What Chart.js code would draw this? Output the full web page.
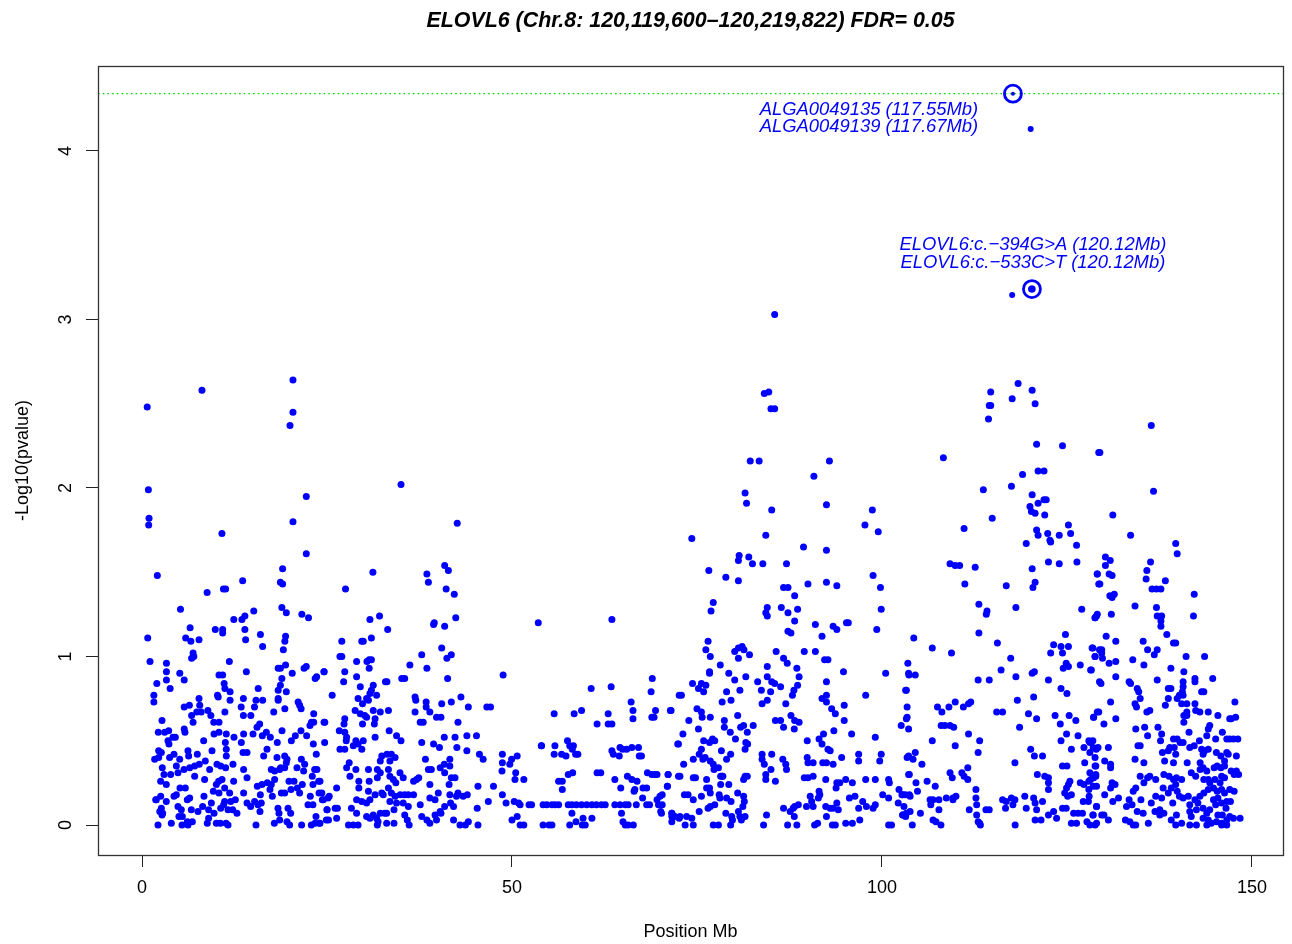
<!DOCTYPE html>
<html><head><meta charset="utf-8">
<script src="https://cdn.jsdelivr.net/npm/chart.js@4/dist/chart.umd.min.js"></script>
<style>html,body{margin:0;padding:0;background:#fff}#wrap{width:1292px;height:944px;position:relative}</style>
</head><body><div id="wrap"><canvas id="c" width="1292" height="944"></canvas></div>
<script>
const TITLE = "ELOVL6 (Chr.8: 120,119,600\u2013120,219,822) FDR= 0.05";
const X_TITLE = "Position Mb";
const Y_TITLE = "-Log10(pvalue)";
const X_TICKS = [0, 50, 100, 150];
const Y_TICKS = [0, 1, 2, 3, 4];
const X_RANGE = [-5.95, 154.2];
const Y_RANGE = [-0.178, 4.504];
const FDR_THRESHOLD = 4.34;

// highlighted SNPs (circled) and the small top dots
const circledSnps = [[117.7, 4.34], [120.27, 3.18]];
const topDots = [[117.7, 4.34], [120.1, 4.13], [117.6, 3.145], [120.22, 3.18], [120.3, 3.18]];
const topDotSizes = [2, 3, 3, 3.5, 3.5];

const annotations = [
  {text: "ALGA0049135 (117.55Mb)", x: 113.0, y: 4.243, align: "right"},
  {text: "ALGA0049139 (117.67Mb)", x: 113.0, y: 4.14, align: "right"},
  {text: "ELOVL6:c.\u2212394G>A (120.12Mb)", x: 120.4, y: 3.442, align: "center"},
  {text: "ELOVL6:c.\u2212533C>T (120.12Mb)", x: 120.4, y: 3.337, align: "center"}
];

// SNP positions (Mb) and -log10(p), grouped by chromosome segment
const segment0to25 = [
[0.7,2.48],[8.1,2.58],[20.4,2.64],[20.4,2.45],[20.0,2.37],[0.86,1.99],[0.95,1.82],[0.9,1.78],[22.2,1.95],[10.8,1.73],[20.4,1.80],[22.2,1.61],[2.07,1.48],[19.0,1.52],[18.7,1.44],[19.0,1.43],[13.6,1.45],[8.8,1.38],[11.0,1.40],[11.3,1.40],[5.2,1.28],[18.9,1.29],[19.5,1.26],[15.1,1.27],[12.4,1.22],[13.5,1.22],[13.9,1.24],[21.6,1.25],[22.5,1.23],[6.5,1.17],[9.9,1.16],[10.9,1.16],[10.9,1.14],[13.9,1.16],[14.0,1.10],[16.0,1.13],[16.3,1.06],[19.4,1.12],[19.3,1.09],[19.1,1.04],[0.77,1.11],[5.9,1.11],[6.6,1.09],[7.7,1.10],[6.9,1.02],[6.7,0.99],[7.0,1.00],[1.08,0.97],[3.3,0.96],[3.3,0.91],[3.3,0.86],[2.0,0.84],[5.1,0.90],[5.7,0.86],[3.8,0.81],[11.8,0.97],[14.1,0.91],[10.4,0.89],[10.9,0.89],[11.1,0.84],[11.2,0.81],[11.9,0.79],[11.9,0.74],[10.2,0.77],[10.3,0.76],[15.7,0.81],[15.4,0.74],[16.3,0.74],[18.4,0.93],[18.7,0.93],[18.9,0.87],[18.7,0.83],[18.4,0.80],[19.5,0.79],[19.4,0.95],[20.3,0.90],[21.9,0.93],[22.2,0.94],[23.4,0.87],[23.6,0.88],[24.6,0.91],[18.4,0.75],[18.4,0.74],[1.6,0.77],[1.6,0.73],[2.7,0.62],[2.2,0.55],[5.7,0.70],[6.4,0.71],[7.7,0.75],[7.8,0.71],[6.7,0.65],[6.9,0.61],[5.7,0.57],[5.8,0.55],[7.4,0.67],[8.0,0.67],[8.9,0.68],[9.3,0.65],[9.7,0.61],[10.4,0.61],[11.2,0.67],[13.4,0.70],[13.7,0.65],[13.7,0.75],[15.2,0.70],[14.7,0.65],[17.8,0.67],[19.3,0.69],[21.1,0.73],[21.3,0.71],[21.5,0.69],[23.2,0.66],[22.9,0.61],[23.2,0.61],[22.7,0.59],[24.7,0.61],
[3.06,0.55],[3.6,0.56],[4.18,0.52],[3.51,0.50],[3.64,0.48],[4.5,0.52],[8.33,0.50],[9.73,0.54],[10.4,0.55],[11.39,0.54],[11.26,0.49],[12.43,0.52],[13.73,0.54],[15.0,0.54],[15.54,0.58],[15.9,0.60],[16.26,0.53],[16.8,0.55],[17.34,0.52],[18.92,0.56],[18.28,0.49],[20.18,0.50],[20.72,0.53],[21.48,0.56],[22.25,0.53],[23.15,0.48],[24.68,0.49],[2.25,0.44],[2.61,0.43],[1.71,0.39],[2.25,0.40],[2.74,0.34],[3.73,0.40],[4.32,0.42],[5.09,0.39],[4.64,0.35],[6.21,0.44],[6.3,0.41],[7.47,0.42],[8.55,0.38],[9.46,0.44],[11.39,0.45],[11.39,0.41],[10.13,0.36],[10.63,0.35],[11.3,0.34],[12.29,0.36],[13.42,0.49],[13.65,0.43],[14.19,0.43],[13.73,0.33],[14.19,0.28],[16.44,0.41],[16.89,0.45],[18.24,0.40],[19.28,0.41],[19.59,0.39],[19.5,0.37],[19.28,0.34],[17.47,0.33],[17.92,0.32],[18.6,0.33],[18.73,0.34],[21.53,0.39],[21.98,0.36],[20.94,0.34],[21.84,0.32],[23.55,0.42],[23.33,0.33],[23.64,0.33],[23.01,0.29],[23.87,0.26],
[2.97,0.30],[2.52,0.26],[3.28,0.24],[3.87,0.30],[4.86,0.31],[5.67,0.33],[6.44,0.34],[7.11,0.35],[7.74,0.36],[7.11,0.29],[8.46,0.27],[9.14,0.33],[10.36,0.26],[10.81,0.27],[10.04,0.24],[12.38,0.26],[5.13,0.22],[5.85,0.22],[4.64,0.18],[4.32,0.17],[6.12,0.15],[6.44,0.16],[1.93,0.15],[2.52,0.17],[3.28,0.14],[8.37,0.17],[9.64,0.20],[10.4,0.19],[11.17,0.22],[11.84,0.19],[11.17,0.14],[11.98,0.14],[12.61,0.15],[13.73,0.19],[15.58,0.23],[16.21,0.24],[15.99,0.18],[16.93,0.25],[17.47,0.24],[17.92,0.27],[17.29,0.21],[17.61,0.17],[18.83,0.19],[19.28,0.19],[19.86,0.26],[20.54,0.26],[20.13,0.21],[20.99,0.22],[21.3,0.19],[21.66,0.24],[22.74,0.17],[23.1,0.24],[23.92,0.19],[24.37,0.15],[25.13,0.16],[25.0,0.09],
[2.61,0.10],[2.79,0.07],[4.86,0.11],[5.31,0.09],[6.66,0.09],[7.56,0.08],[8.19,0.11],[9.37,0.13],[9.0,0.09],[9.73,0.07],[10.63,0.10],[11.03,0.12],[11.62,0.09],[12.25,0.09],[12.83,0.07],[14.19,0.13],[14.68,0.11],[15.22,0.14],[15.67,0.12],[15.94,0.08],[16.12,0.13],[18.37,0.10],[18.51,0.07],[19.73,0.10],[20.09,0.07],[22.43,0.12],[23.1,0.12],[23.51,0.05],[2.16,0.0],[3.96,0.01],[4.99,0.05],[5.45,0.05],[5.4,0.0],[6.12,0.02],[6.8,0.02],[6.21,0.0],[8.82,0.01],[9.0,0.04],[10.04,0.01],[10.58,0.01],[11.35,0.01],[11.62,0.0],[15.4,0.0],[17.88,0.01],[18.6,0.03],[19.59,0.02],[19.95,0.0],[21.57,0.0],[22.88,0.0],[23.38,0.01],[23.96,0.01],[24.91,0.03],[2.4,0.08],[2.7,0.06],[1.85,0.15]
];

const segment25to55 = [
[35.0,2.02],[42.6,1.79],[31.2,1.50],[27.5,1.40],[38.5,1.49],[38.7,1.44],[40.9,1.54],[41.4,1.51],[41.1,1.40],[42.2,1.37],[42.4,1.23],[39.5,1.20],[39.4,1.19],[40.9,1.18],[30.8,1.22],[32.1,1.24],[33.2,1.16],[27.0,1.09],[29.7,1.09],[29.9,1.09],[31.0,1.11],[26.75,1.0],[27.0,1.0],[29.0,0.97],[30.4,0.97],[30.7,0.98],[31.0,0.98],[30.7,0.93],[27.4,0.91],[24.6,0.91],[27.25,0.85],[29.0,0.88],[29.5,0.82],[31.25,0.83],[31.0,0.80],[30.8,0.78],[31.7,0.77],[33.1,0.85],[32.9,0.85],[35.1,0.87],[35.5,0.87],[36.2,0.95],[37.8,1.01],[38.5,0.93],[40.5,1.05],[41.2,0.99],[41.8,1.01],[41.3,0.87],[48.8,0.89],[53.55,1.20],
[25.7,0.77],[29.2,0.75],[29.8,0.72],[30.35,0.75],[30.6,0.74],[28.8,0.68],[29.5,0.66],[30.1,0.65],[30.35,0.64],[31.25,0.68],[31.5,0.63],[32.2,0.67],[33.3,0.68],[29.8,0.60],[31.4,0.60],[27.4,0.63],[27.3,0.60],[24.6,0.61],[26.66,0.56],[27.4,0.55],[27.65,0.52],[27.6,0.50],[28.9,0.50],[29.2,0.48],[28.55,0.47],[29.9,0.50],[29.7,0.45],[26.75,0.45],[27.4,0.45],[31.5,0.52],[33.4,0.56],[34.4,0.53],[35.0,0.50],[36.9,0.76],[37.0,0.74],[36.9,0.67],[38.4,0.73],[38.4,0.70],[38.9,0.67],[39.8,0.64],[40.4,0.64],[40.5,0.72],[41.8,0.73],[43.1,0.76],[44.1,0.70],[37.6,0.61],[38.0,0.61],[42.7,0.61],[37.8,0.49],[39.4,0.48],[40.2,0.46],[40.85,0.52],[42.3,0.52],[43.9,0.53],[45.2,0.53],[42.55,0.46],[43.9,0.44],[46.6,0.70],[47.1,0.70],[45.6,0.42],[46.1,0.39],[48.7,0.42],[48.7,0.37],[48.65,0.32],[49.7,0.36],[49.95,0.39],[50.7,0.41],[50.5,0.31],[50.4,0.27],[51.6,0.27],[53.96,0.47],
[27.65,0.34],[28.0,0.37],[28.9,0.33],[28.1,0.29],[29.3,0.26],[30.7,0.26],[30.6,0.33],[31.8,0.33],[32.2,0.38],[32.4,0.41],[33.1,0.42],[33.7,0.42],[33.5,0.38],[34.2,0.40],[32.2,0.31],[31.8,0.28],[33.3,0.33],[33.5,0.29],[33.96,0.27],[34.3,0.25],[34.86,0.31],[35.3,0.28],[36.7,0.26],[37.1,0.27],[37.4,0.28],[38.3,0.39],[38.7,0.33],[39.1,0.33],[40.3,0.34],[40.85,0.36],[41.6,0.35],[40.9,0.31],[41.6,0.39],[41.8,0.28],[42.3,0.28],[38.9,0.24],[41.5,0.24],[45.4,0.23],[47.5,0.23],[24.05,0.26],[26.3,0.22],[24.3,0.19],[24.5,0.15],[25.3,0.17],
[29.3,0.22],[29.0,0.15],[29.7,0.14],[30.35,0.13],[30.8,0.15],[30.6,0.20],[31.5,0.18],[32.4,0.19],[32.6,0.18],[33.3,0.22],[33.7,0.19],[34.2,0.17],[34.9,0.18],[35.5,0.18],[35.99,0.18],[36.7,0.18],[35.3,0.13],[35.99,0.11],[34.4,0.13],[33.5,0.14],[37.6,0.12],[38.9,0.16],[39.6,0.15],[40.04,0.19],[41.6,0.18],[42.5,0.17],[42.7,0.19],[43.4,0.17],[43.96,0.18],[40.3,0.08],[40.9,0.11],[41.7,0.13],[42.1,0.11],[45.3,0.10],[46.8,0.14],[48.7,0.18],[49.2,0.13],[50.3,0.14],[50.9,0.13],[51.1,0.12],[52.3,0.12],[52.65,0.12],[54.2,0.12],[54.7,0.12],
[25.0,0.09],[26.1,0.10],[26.4,0.10],[25.2,0.03],[26.3,0.04],[28.3,0.10],[29.0,0.07],[28.55,0.0],[27.9,0.0],[29.2,0.0],[30.35,0.05],[30.8,0.04],[31.25,0.06],[31.7,0.04],[31.9,0.02],[32.2,0.07],[32.8,0.07],[33.06,0.07],[34.05,0.09],[31.8,0.0],[33.06,0.01],[34.05,0.01],[35.5,0.06],[35.85,0.03],[36.1,0.0],[37.8,0.05],[38.5,0.03],[38.9,0.01],[39.6,0.06],[39.8,0.03],[40.4,0.07],[42.1,0.03],[42.97,0.0],[43.7,0.0],[44.1,0.02],[45.4,0.0],[50.0,0.03],[50.7,0.05],[51.1,0.0],[51.6,0.0],[54.2,0.0],[55.0,0.0],[24.05,0.01]
];

const segment54to72 = [
[63.5,1.22],[68.96,0.87],[68.8,0.79],[60.7,0.81],[63.4,0.82],[66.1,0.73],[66.35,0.68],[66.35,0.63],[69.4,0.68],[68.9,0.64],[69.2,0.64],[71.5,0.68],[72.6,0.77],[55.7,0.66],[58.4,0.66],[59.4,0.68],[61.5,0.60],[63.0,0.66],[63.0,0.60],[63.5,0.60],
[54.0,0.47],[55.8,0.47],[55.7,0.42],[57.5,0.50],[57.8,0.47],[58.3,0.47],[58.15,0.45],[56.7,0.42],[57.3,0.41],[58.6,0.42],[58.9,0.42],[63.5,0.44],[63.7,0.42],[64.6,0.46],[64.5,0.41],[64.95,0.45],[65.5,0.45],[66.2,0.46],[67.1,0.46],[67.2,0.41],[67.5,0.41],[72.4,0.48],
[57.6,0.30],[58.2,0.31],[61.5,0.31],[62.0,0.31],[56.3,0.26],[56.8,0.26],[56.8,0.21],[63.9,0.27],[65.6,0.29],[66.2,0.27],[66.9,0.26],[64.7,0.22],[66.6,0.21],[66.5,0.20],[67.7,0.22],[68.2,0.22],[68.3,0.31],[68.9,0.30],[69.3,0.30],[69.6,0.30],[71.1,0.30],[72.5,0.29],[71.0,0.23],[67.65,0.16],[70.0,0.17],[69.6,0.15],
[55.4,0.12],[55.8,0.12],[56.3,0.12],[57.6,0.12],[58.1,0.12],[58.7,0.12],[59.4,0.12],[60.1,0.12],[60.8,0.12],[61.4,0.12],[62.1,0.12],[62.6,0.12],[63.9,0.12],[64.6,0.12],[65.3,0.12],[65.7,0.12],[66.8,0.12],[68.2,0.12],[68.6,0.12],[69.8,0.12],
[58.1,0.07],[64.8,0.07],[70.1,0.08],[58.65,0.02],[59.6,0.04],[60.8,0.04],[59.9,0.0],[59.5,0.0],[65.0,0.02],[65.3,0.0],[65.7,0.0],[66.4,0.0],[55.4,0.0],[57.8,0.0],[71.6,0.07],[71.6,0.02],[72.0,0.05],[72.6,0.04]
];

const segment70to104 = [
[85.5,3.03],[84.1,2.56],[84.7,2.57],[85.0,2.47],[85.5,2.47],[82.2,2.16],[83.4,2.16],[92.9,2.16],[90.8,2.07],[81.5,1.97],[81.7,1.91],[85.1,1.87],[92.5,1.90],[98.7,1.87],[97.7,1.78],[99.5,1.74],[74.3,1.70],[84.3,1.72],[89.4,1.65],[92.5,1.63],[80.7,1.60],[80.6,1.57],[82.0,1.59],[82.5,1.55],[83.9,1.55],[87.1,1.55],[76.6,1.51],[78.9,1.47],[80.6,1.45],[90.0,1.43],[92.5,1.44],[93.9,1.42],[98.8,1.48],[99.8,1.41],[86.7,1.41],[87.3,1.41],[88.2,1.36],[77.2,1.32],[76.9,1.27],[84.5,1.29],[84.3,1.26],[84.5,1.24],[86.4,1.29],[87.3,1.26],[88.6,1.28],[88.2,1.21],[99.9,1.28],[91.0,1.19],[87.3,1.15],[87.7,1.14],[93.4,1.18],[93.9,1.16],[95.2,1.20],[95.45,1.20],[91.9,1.12],[99.3,1.16],
[76.5,1.09],[76.2,1.04],[76.8,1.00],[80.1,1.03],[80.6,1.05],[81.1,1.06],[81.35,1.04],[80.6,0.99],[82.1,1.01],[85.7,1.03],[89.5,1.03],[91.0,1.03],[92.25,0.98],[92.7,0.98],[86.7,0.99],[87.2,0.96],[84.5,0.94],[84.5,0.88],[85.1,0.85],[85.5,0.84],[86.3,0.82],[88.5,0.93],[88.8,0.88],[88.6,0.83],[88.1,0.80],[87.9,0.77],[76.7,0.91],[76.7,0.90],[78.15,0.95],[79.3,0.90],[80.1,0.86],[81.6,0.88],[74.4,0.84],[75.2,0.81],[75.6,0.84],[76.2,0.83],[75.9,0.79],[83.2,0.85],[83.7,0.80],[84.95,0.79],[84.5,0.74],[83.8,0.72],[79.0,0.79],[78.4,0.73],[79.6,0.74],[80.8,0.80],[72.9,0.77],[71.4,0.68],[92.5,0.85],[92.5,0.77],[91.9,0.75],[92.5,0.73],[94.8,0.91],[94.9,0.71],[94.9,0.62],[97.8,0.77],[100.5,0.90],[103.5,0.96],[103.6,0.90],[103.3,0.80],[103.4,0.70],[103.4,0.64],[87.0,0.72],[93.2,0.69],[93.7,0.66],
[75.0,0.69],[75.6,0.67],[76.8,0.64],[73.9,0.62],[75.2,0.57],[75.7,0.64],[78.7,0.62],[78.7,0.58],[80.5,0.65],[80.9,0.58],[81.3,0.59],[81.8,0.55],[82.6,0.59],[79.5,0.55],[80.2,0.51],[81.6,0.49],[81.85,0.48],[81.5,0.45],[85.6,0.62],[86.3,0.62],[86.7,0.58],[87.7,0.65],[88.2,0.62],[88.8,0.61],[88.15,0.57],[93.5,0.56],[95.9,0.54],[99.1,0.52],[89.9,0.50],[91.5,0.51],[92.1,0.54],[91.9,0.48],[92.7,0.45],[93.0,0.44],[72.5,0.48],[73.1,0.54],[74.5,0.39],[73.2,0.36],[75.9,0.50],[75.6,0.45],[76.7,0.49],[77.1,0.51],[77.4,0.50],[76.1,0.40],[75.3,0.42],[75.8,0.39],[76.8,0.38],[77.2,0.36],[77.9,0.34],[77.3,0.33],[78.3,0.44],[79.55,0.42],[79.0,0.39],[78.5,0.29],[83.8,0.42],[85.1,0.42],[83.8,0.39],[84.1,0.36],[85.0,0.33],[85.6,0.26],[84.3,0.30],[84.3,0.27],[86.6,0.39],[87.0,0.36],[87.1,0.33],[89.9,0.40],[90.0,0.37],[90.7,0.37],[92.0,0.37],[92.5,0.37],[93.4,0.36],[94.55,0.40],[96.85,0.42],[96.85,0.38],[99.9,0.42],[99.7,0.38],[103.4,0.40],
[71.1,0.30],[72.7,0.29],[74.5,0.28],[74.8,0.28],[76.3,0.27],[78.2,0.29],[78.4,0.29],[79.3,0.24],[81.5,0.29],[81.8,0.29],[81.3,0.27],[89.5,0.28],[90.0,0.28],[90.7,0.29],[92.4,0.27],[93.9,0.25],[94.3,0.25],[93.8,0.22],[95.1,0.27],[96.0,0.25],[97.8,0.27],[99.1,0.27],[100.9,0.27],[101.0,0.25],[103.6,0.30],[71.0,0.23],[76.7,0.22],[76.3,0.22],[78.2,0.24],[70.3,0.18],[70.3,0.12],[70.2,0.07],[73.3,0.18],[73.8,0.18],[75.6,0.17],[76.8,0.19],[78.0,0.18],[78.1,0.16],[77.4,0.12],[76.8,0.11],[76.5,0.10],[75.3,0.08],[74.5,0.15],[79.0,0.16],[79.6,0.14],[80.5,0.19],[81.3,0.17],[81.4,0.14],[81.2,0.11],[80.6,0.08],[78.9,0.07],[79.7,0.05],[80.8,0.05],[81.5,0.05],[81.0,0.04],
[86.7,0.10],[87.6,0.08],[88.0,0.10],[88.2,0.11],[88.7,0.12],[88.15,0.05],[84.4,0.06],[90.3,0.17],[90.5,0.14],[89.8,0.11],[90.7,0.11],[91.5,0.20],[91.6,0.18],[91.4,0.16],[92.4,0.11],[93.0,0.10],[93.4,0.10],[93.9,0.13],[94.1,0.09],[95.6,0.16],[96.35,0.17],[97.4,0.14],[96.85,0.10],[97.9,0.11],[98.8,0.10],[99.1,0.12],[100.1,0.18],[100.9,0.16],[102.3,0.21],[102.7,0.18],[102.2,0.13],[103.15,0.18],[103.7,0.18],[102.8,0.06],[103.3,0.07],[71.6,0.07],[71.6,0.05],[72.7,0.05],[73.6,0.05],[74.3,0.04],[73.4,0.0],[74.5,0.0],[77.2,0.0],[77.9,0.0],[79.55,0.0],[79.8,0.03],[81.0,0.03],[84.0,0.0],[87.25,0.0],[88.5,0.0],[90.9,0.0],[91.3,0.01],[92.5,0.05],[93.3,0.0],[93.7,0.0],[95.1,0.01],[96.0,0.01],[97.0,0.03],[100.9,0.0],[101.3,0.0]
];

const segment102to130 = [
[118.4,2.62],[120.3,2.58],[114.7,2.57],[114.5,2.49],[114.7,2.49],[114.4,2.41],[117.6,2.53],[120.7,2.50],[120.9,2.26],[124.4,2.25],[129.3,2.21],[108.3,2.18],[121.1,2.10],[121.9,2.10],[119.0,2.08],[117.5,2.01],[113.7,1.99],[120.3,1.96],[121.1,1.91],[121.9,1.93],[122.2,1.93],[120.0,1.89],[120.2,1.86],[120.7,1.85],[122.0,1.84],[114.9,1.82],[111.1,1.76],[120.9,1.75],[121.1,1.72],[122.4,1.73],[122.7,1.69],[122.8,1.68],[123.96,1.72],[125.2,1.78],[125.5,1.73],[126.3,1.66],[119.5,1.67],[109.2,1.55],[109.9,1.54],[110.5,1.54],[112.6,1.53],[120.3,1.52],[122.5,1.56],[123.96,1.55],[126.35,1.56],[129.1,1.49],[129.3,1.43],[111.2,1.43],[116.8,1.42],[120.7,1.44],[120.4,1.41],[113.1,1.31],[114.2,1.27],[114.1,1.25],[118.1,1.29],[127.0,1.28],[128.8,1.23],[129.1,1.25],[113.1,1.14],[115.6,1.08],[104.3,1.11],[106.8,1.05],[109.4,1.02],
[103.65,0.89],[104.5,0.89],[103.2,0.80],[103.3,0.63],[103.6,0.57],[102.6,0.59],[117.4,0.99],[116.1,0.92],[118.1,0.88],[113.0,0.86],[114.5,0.86],[120.3,0.90],[120.6,0.91],[122.5,0.86],[124.8,1.13],[123.2,1.07],[124.2,1.06],[125.2,1.06],[122.8,1.02],[124.4,1.02],[124.9,0.96],[124.5,0.93],[125.2,0.94],[126.8,0.95],[128.2,0.92],[128.4,1.05],[128.8,1.0],[129.4,1.04],[124.2,0.81],[125.0,0.78],[129.4,0.85],[120.5,0.76],[118.3,0.74],[107.5,0.70],[108.1,0.67],[109.05,0.70],[109.9,0.73],[111.0,0.70],[111.7,0.72],[112.0,0.73],[108.0,0.59],[108.5,0.59],[109.2,0.59],[109.7,0.58],[115.5,0.67],[116.3,0.67],[119.8,0.66],[120.9,0.63],[118.6,0.58],[123.4,0.65],[124.1,0.60],[125.3,0.65],[126.2,0.62],[128.6,0.64],[129.1,0.67],
[124.95,0.54],[124.2,0.50],[125.6,0.45],[126.5,0.53],[127.3,0.46],[127.96,0.50],[128.5,0.50],[128.96,0.45],[128.1,0.43],[128.8,0.40],[106.8,0.50],[111.7,0.54],[113.2,0.50],[113.0,0.43],[109.9,0.47],[103.6,0.41],[104.5,0.43],[104.2,0.39],[105.4,0.36],[120.1,0.45],[120.6,0.41],[121.7,0.41],[117.97,0.37],[127.4,0.37],[124.4,0.35],[125.0,0.35],[128.8,0.35],[111.6,0.34],[109.2,0.31],[109.5,0.28],[110.8,0.31],[111.1,0.29],[111.6,0.27],[103.7,0.30],[104.6,0.25],[106.1,0.26],[107.2,0.23],[121.0,0.30],[122.0,0.29],[122.5,0.28],[122.5,0.25],[122.5,0.21],[125.4,0.26],[125.2,0.24],[124.95,0.22],[124.7,0.19],[126.8,0.25],[127.3,0.24],[127.96,0.26],[128.6,0.28],[128.9,0.30],[127.96,0.21],[128.0,0.17],[129.0,0.23],
[112.7,0.21],[112.7,0.16],[112.8,0.12],[102.8,0.18],[103.8,0.17],[104.8,0.20],[106.5,0.15],[106.9,0.15],[107.7,0.15],[106.6,0.12],[108.7,0.16],[109.6,0.15],[110.0,0.17],[109.6,0.16],[116.3,0.15],[116.8,0.14],[117.5,0.16],[117.97,0.15],[117.7,0.12],[119.3,0.17],[120.5,0.16],[120.7,0.13],[121.7,0.14],[125.1,0.17],[125.6,0.18],[127.2,0.14],[127.9,0.14],[129.0,0.11],[102.97,0.11],[103.8,0.08],[102.8,0.06],[103.2,0.05],[105.2,0.07],[107.7,0.09],[111.8,0.09],[112.8,0.06],[113.2,0.01],[113.0,0.02],[114.05,0.09],[114.5,0.09],[116.7,0.10],[119.5,0.10],[120.9,0.09],[122.5,0.06],[123.2,0.08],[123.6,0.04],[124.4,0.10],[124.9,0.10],[125.9,0.07],[126.5,0.07],[127.1,0.07],[127.7,0.02],[128.5,0.06],[129.0,0.01],[104.1,0.0],[106.9,0.03],[107.3,0.02],[107.97,0.0],[113.3,0.0],[118.0,0.0],[120.7,0.03],[121.5,0.03],[125.6,0.01],[126.3,0.01]
];

const segment128to149 = [
[136.4,2.37],[129.45,2.21],[136.7,1.98],[131.2,1.84],[133.6,1.72],[139.7,1.67],[139.9,1.61],[130.2,1.59],[130.85,1.57],[130.2,1.54],[129.1,1.49],[129.45,1.43],[130.7,1.49],[131.1,1.48],[136.3,1.56],[135.8,1.51],[135.7,1.46],[138.3,1.45],[136.5,1.40],[137.1,1.40],[137.7,1.40],[142.2,1.37],[130.8,1.36],[131.1,1.35],[131.4,1.37],[134.2,1.30],[137.1,1.29],[137.2,1.24],[137.8,1.24],[137.7,1.21],[137.7,1.18],[142.1,1.24],[129.0,1.24],[128.8,1.23],[131.0,1.25],[138.5,1.13],[130.3,1.12],[131.6,1.09],[135.3,1.09],[135.9,1.04],[137.2,1.04],[136.8,1.01],[139.4,1.08],[139.7,1.08],[141.1,1.00],[143.6,1.00],[128.5,1.05],[128.8,1.00],[129.7,1.04],[129.8,0.99],[129.7,1.02],
[130.7,0.96],[131.6,0.97],[133.9,0.98],[135.4,0.95],[128.3,0.92],[131.6,0.88],[129.6,0.84],[139.05,0.93],[137.2,0.86],[133.4,0.85],[133.6,0.84],[140.8,0.91],[140.7,0.85],[140.7,0.82],[140.6,0.79],[140.7,0.77],[142.3,0.87],[142.3,0.85],[144.7,0.87],[134.5,0.81],[134.7,0.79],[134.9,0.75],[138.7,0.81],[139.05,0.81],[140.2,0.77],[139.9,0.75],[138.7,0.75],[138.3,0.71],[130.9,0.73],[134.2,0.72],[134.4,0.70],[140.5,0.72],[141.2,0.72],[142.3,0.72],[143.2,0.79],[143.5,0.79],[147.7,0.73],[141.2,0.67],[142.4,0.68],[142.97,0.67],[144.1,0.67],[140.8,0.65],[141.2,0.65],[145.4,0.65],[147.0,0.63],[147.2,0.63],[147.8,0.64],
[129.3,0.67],[128.6,0.64],[130.0,0.60],[131.6,0.63],[135.8,0.67],[136.2,0.68],[135.5,0.58],[135.9,0.53],[134.3,0.57],[137.3,0.58],[137.8,0.54],[137.65,0.50],[140.8,0.61],[141.5,0.55],[144.3,0.59],[144.1,0.57],[143.9,0.53],[145.1,0.51],[146.0,0.55],[146.6,0.51],[147.0,0.51],[147.5,0.51],[148.1,0.51],[147.9,0.41],[128.1,0.49],[128.55,0.46],[129.2,0.46],[130.6,0.46],[134.6,0.47],[134.9,0.47],[137.9,0.43],[138.7,0.44],[139.4,0.51],[139.9,0.51],[140.3,0.49],[140.7,0.49],[139.5,0.46],[138.9,0.46],[139.7,0.42],[141.6,0.46],[142.2,0.47],[142.9,0.50],[143.2,0.45],[143.6,0.44],[144.1,0.45],[143.4,0.42],[145.2,0.43],[145.8,0.41],[146.6,0.43],[146.8,0.42],[146.3,0.38],[144.9,0.34],[145.3,0.35],[145.8,0.34],[147.2,0.32],[147.9,0.32],[148.2,0.30],[147.6,0.30],[146.3,0.35],
[128.9,0.35],[130.1,0.38],[130.9,0.36],[130.9,0.34],[128.1,0.31],[134.2,0.39],[135.4,0.37],[134.9,0.29],[135.4,0.25],[135.9,0.28],[136.2,0.29],[138.2,0.38],[139.4,0.37],[138.1,0.30],[137.0,0.27],[138.8,0.29],[139.4,0.27],[139.8,0.28],[140.5,0.27],[141.25,0.37],[141.8,0.31],[142.4,0.29],[143.0,0.37],[143.0,0.33],[143.4,0.34],[143.9,0.32],[143.5,0.27],[144.1,0.27],[144.3,0.25],[145.0,0.27],[145.7,0.25],[145.9,0.29],[146.3,0.28],[128.2,0.27],[128.9,0.29],[128.55,0.23],[131.1,0.25],[131.5,0.24],[130.9,0.22],
[130.1,0.18],[131.97,0.16],[131.2,0.14],[130.6,0.03],[129.0,0.11],[128.55,0.06],[129.7,0.06],[130.0,0.06],[133.4,0.15],[133.96,0.20],[134.3,0.22],[135.0,0.15],[133.8,0.12],[133.05,0.11],[132.9,0.03],[134.5,0.08],[135.3,0.07],[133.96,0.0],[134.3,0.0],[136.0,0.01],[137.0,0.17],[137.8,0.16],[136.4,0.13],[138.0,0.22],[138.7,0.19],[139.1,0.22],[139.7,0.24],[139.9,0.20],[140.2,0.17],[139.3,0.13],[136.9,0.08],[137.55,0.09],[138.1,0.07],[137.55,0.06],[139.8,0.06],[139.1,0.03],[139.7,0.0],[140.5,0.01],
[140.7,0.16],[141.4,0.17],[141.6,0.12],[142.3,0.15],[142.7,0.13],[142.97,0.17],[143.5,0.19],[144.1,0.21],[144.8,0.22],[145.3,0.20],[145.9,0.21],[146.3,0.19],[147.0,0.21],[147.6,0.20],[141.6,0.08],[141.8,0.05],[142.5,0.09],[143.4,0.10],[143.9,0.07],[144.3,0.09],[144.8,0.15],[145.1,0.12],[145.4,0.16],[145.9,0.13],[146.6,0.14],[147.1,0.14],[146.5,0.10],[143.4,0.04],[144.1,0.03],[144.5,0.01],[145.2,0.02],[145.9,0.01],[146.6,0.03],[147.0,0.05],[147.5,0.04],[148.4,0.04],[145.4,0.06],[146.0,0.06],[141.6,0.0],[142.5,0.0],[143.9,0.0],[145.9,0.0],[146.6,0.0],[128.1,0.0],[128.8,0.0],[133.5,0.02]
];

const allSnps = [].concat(segment0to25, segment25to55, segment54to72, segment70to104, segment102to130, segment128to149);

const FONT = "'Liberation Sans', Arial, Helvetica, sans-serif";
const BLUE = '#0000FF';

const toXY = arr => arr.map(([x, y]) => ({x, y}));

const framePlugin = {
  id: 'frame',
  afterDraw(chart) {
    const {ctx, chartArea: a, scales} = chart;
    ctx.save();
    ctx.strokeStyle = '#333';
    ctx.lineWidth = 1.3;
    ctx.strokeRect(Math.round(a.left) + 0.5, Math.round(a.top) + 0.5, Math.round(a.right - a.left), Math.round(a.bottom - a.top));
    // title
    ctx.fillStyle = '#000';
    ctx.font = "italic bold 21.4px " + FONT;
    ctx.textAlign = 'center';
    ctx.textBaseline = 'middle';
    ctx.fillText(TITLE, (a.left + a.right) / 2, 21);
    // annotations
    ctx.font = "italic 18.4px " + FONT;
    ctx.fillStyle = BLUE;
    for (const an of annotations) {
      ctx.textAlign = an.align;
      ctx.fillText(an.text, scales.x.getPixelForValue(an.x), scales.y.getPixelForValue(an.y));
    }
    ctx.restore();
  }
};

new Chart(document.getElementById('c'), {
  type: 'scatter',
  data: {
    datasets: [
      {label: 'circled', data: toXY(circledSnps), pointRadius: 8.5, pointBorderWidth: 2.8,
       pointBackgroundColor: 'rgba(0,0,0,0)', pointBorderColor: BLUE, pointHoverRadius: 8.5},
      {label: 'top', data: toXY(topDots), pointRadius: topDotSizes, pointBorderWidth: 0,
       pointBackgroundColor: BLUE, pointHoverRadius: topDotSizes},
      {label: 'snps', data: toXY(allSnps), pointRadius: 3.5, pointBorderWidth: 0,
       pointBackgroundColor: BLUE, pointHoverRadius: 3.5},
      {label: 'FDR', data: [{x: X_RANGE[0], y: FDR_THRESHOLD}, {x: X_RANGE[1], y: FDR_THRESHOLD}],
       showLine: true, pointRadius: 0, borderColor: '#00DD00', borderWidth: 1.4, borderDash: [1.6, 3.1]}
    ]
  },
  options: {
    responsive: false,
    animation: false,
    devicePixelRatio: 1,
    layout: {autoPadding: false, padding: {left: 0, top: 66, right: 9, bottom: 0}},
    plugins: {legend: {display: false}, tooltip: {enabled: false}},
    events: [],
    scales: {
      x: {
        type: 'linear', min: X_RANGE[0], max: X_RANGE[1],
        afterBuildTicks: s => { s.ticks = X_TICKS.map(v => ({value: v})); },
        afterFit: s => { s.height = 89; },
        grid: {drawOnChartArea: false, drawTicks: true, tickLength: 12, color: '#222', lineWidth: 1},
        border: {display: true, color: '#333', width: 1},
        ticks: {font: {size: 18, family: FONT}, color: '#000', padding: 10, minRotation: 0, maxRotation: 0},
        title: {display: true, text: X_TITLE, font: {size: 18, family: FONT}, color: '#000', padding: {top: 0, bottom: 1}}
      },
      y: {
        type: 'linear', min: Y_RANGE[0], max: Y_RANGE[1],
        afterBuildTicks: s => { s.ticks = Y_TICKS.map(v => ({value: v})); },
        afterFit: s => { s.width = 98; },
        grid: {drawOnChartArea: false, drawTicks: true, tickLength: 12, color: '#222', lineWidth: 1},
        border: {display: true, color: '#333', width: 1},
        ticks: {font: {size: 18, family: FONT}, color: '#000', padding: 6, minRotation: 90, maxRotation: 90, crossAlign: 'center', align: 'end'},
        title: {display: true, text: Y_TITLE, font: {size: 18, family: FONT}, color: '#000', padding: {top: 12, bottom: 0}}
      }
    }
  },
  plugins: [framePlugin]
});
</script>
</body></html>
